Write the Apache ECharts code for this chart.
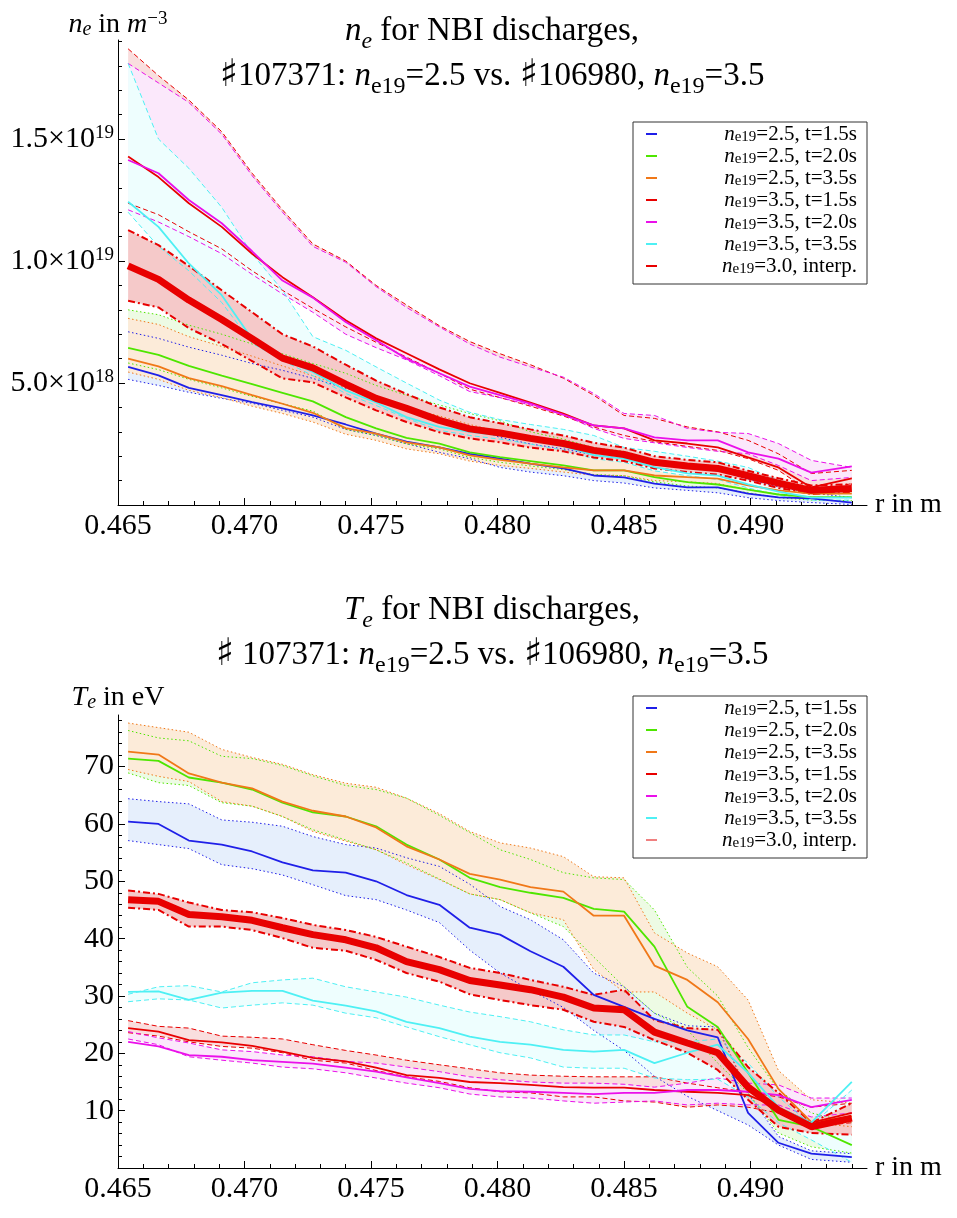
<!DOCTYPE html>
<html><head><meta charset="utf-8">
<script src="https://cdn.jsdelivr.net/npm/echarts@6/dist/echarts.min.js"></script>
<style>html,body{margin:0;padding:0;background:#fff}#c{width:957px;height:1218px}</style>
</head><body><div id="c"></div>
<script>
// radial positions r (m)
const R = [0.4654, 0.4666, 0.4678, 0.4691, 0.4703, 0.4715, 0.4727, 0.4740, 0.4752, 0.4764, 0.4777, 0.4789,
           0.4801, 0.4813, 0.4826, 0.4838, 0.4850, 0.4862, 0.4875, 0.4887, 0.4899, 0.4911, 0.4924, 0.4940];

// ---- n_e (units of 1e18 m^-3) ----
const NE_B    = [5.66, 5.31, 4.8, 4.5, 4.22, 3.96, 3.67, 3.3, 2.93, 2.6, 2.36, 2.1, 1.9, 1.7, 1.5, 1.21, 1.13, 0.88, 0.72, 0.72, 0.47, 0.31, 0.27, 0.1];
const NE_B_HI = [7.1, 6.83, 6.47, 6.14, 5.8, 5.52, 5.19, 4.78, 4.41, 3.88, 3.47, 3.18, 2.77, 2.5, 2.3, 2.05, 1.9, 1.65, 1.5, 1.45, 1.05, 0.75, 0.5, 0.3];
const NE_B_LO = [5.15, 4.9, 4.62, 4.37, 4.17, 3.88, 3.6, 3.1, 2.85, 2.52, 2.16, 1.9, 1.54, 1.35, 1.2, 1.0, 0.9, 0.7, 0.6, 0.5, 0.3, 0.18, 0.1, 0.02];
const NE_G    = [6.44, 6.15, 5.7, 5.3, 4.95, 4.6, 4.25, 3.6, 3.14, 2.75, 2.52, 2.16, 1.96, 1.8, 1.62, 1.42, 1.42, 1.14, 0.94, 0.84, 0.63, 0.43, 0.32, 0.32];
const NE_G_HI = [8.0, 7.8, 7.37, 7.0, 6.6, 6.2, 5.8, 5.4, 4.9, 4.5, 4.1, 3.75, 3.45, 3.0, 2.7, 2.35, 2.2, 1.85, 1.6, 1.5, 1.15, 0.85, 0.6, 0.55];
const NE_G_LO = [5.82, 5.55, 5.15, 4.8, 4.45, 4.15, 3.85, 3.1, 2.85, 2.5, 2.3, 1.95, 1.75, 1.6, 1.45, 1.25, 1.2, 0.95, 0.78, 0.7, 0.5, 0.3, 0.2, 0.18];
const NE_O    = [6.0, 5.68, 5.2, 4.87, 4.5, 4.15, 3.78, 3.15, 2.93, 2.57, 2.36, 2.03, 1.85, 1.7, 1.54, 1.42, 1.42, 1.21, 1.14, 1.08, 0.8, 0.6, 0.47, 0.47];
const NE_O_HI = [7.65, 7.4, 6.9, 6.5, 6.1, 5.7, 5.3, 4.8, 4.4, 4.0, 3.65, 3.3, 3.0, 2.75, 2.5, 2.25, 2.15, 1.85, 1.7, 1.6, 1.25, 0.95, 0.75, 0.7];
const NE_O_LO = [5.45, 5.15, 4.7, 4.4, 4.05, 3.75, 3.4, 2.9, 2.65, 2.3, 2.1, 1.8, 1.62, 1.5, 1.35, 1.22, 1.2, 1.0, 0.95, 0.88, 0.62, 0.45, 0.32, 0.3];
const NE_R    = [14.28, 13.44, 12.37, 11.4, 10.3, 9.34, 8.52, 7.57, 6.83, 6.22, 5.56, 4.99, 4.6, 4.2, 3.75, 3.26, 3.14, 2.65, 2.52, 2.36, 1.95, 1.54, 0.72, 1.09];
const NE_R_HI = [18.7, 17.6, 16.6, 15.3, 13.6, 12.1, 10.7, 10.0, 9.0, 8.2, 7.35, 6.7, 6.2, 5.75, 5.2, 4.5, 3.67, 3.55, 3.2, 3.0, 2.65, 2.1, 1.29, 1.42];
const NE_R_LO = [12.37, 11.9, 11.2, 10.5, 9.6, 8.8, 8.06, 7.3, 6.67, 6.06, 5.4, 4.75, 4.4, 4.05, 3.65, 3.2, 2.85, 2.6, 2.4, 2.24, 1.9, 1.42, 0.52, 0.88];
const NE_M    = [14.14, 13.6, 12.5, 11.55, 10.4, 9.2, 8.5, 7.5, 6.75, 6.0, 5.4, 4.85, 4.5, 4.16, 3.7, 3.26, 3.14, 2.77, 2.65, 2.65, 2.16, 1.9, 1.33, 1.58];
const NE_M_HI = [18.1, 17.3, 16.5, 15.2, 13.5, 12.0, 10.6, 9.95, 8.95, 8.1, 7.3, 6.6, 6.06, 5.66, 5.24, 4.57, 3.75, 3.67, 3.14, 2.98, 2.93, 2.52, 1.83, 1.54];
const NE_M_LO = [12.1, 11.6, 11.0, 10.3, 9.45, 8.65, 7.9, 7.0, 6.45, 5.95, 5.3, 4.65, 4.4, 4.1, 3.7, 3.14, 2.73, 2.55, 2.36, 2.2, 2.1, 1.62, 1.0, 1.13];
const NE_C    = [12.43, 11.4, 9.9, 8.6, 6.8, 6.0, 5.45, 4.7, 4.2, 3.6, 3.2, 3.0, 2.85, 2.65, 2.4, 2.05, 1.9, 1.55, 1.3, 1.2, 0.85, 0.55, 0.3, 0.3];
const NE_C_HI = [18.1, 15.0, 13.8, 12.2, 10.3, 8.8, 6.9, 6.34, 5.66, 5.0, 4.3, 3.8, 3.5, 3.3, 3.1, 2.85, 2.36, 2.2, 2.0, 1.8, 1.54, 1.0, 0.47, 0.6];
const NE_C_LO = [12.0, 10.6, 9.6, 8.3, 6.63, 5.93, 5.3, 4.57, 4.08, 3.55, 3.06, 2.85, 2.7, 2.5, 2.25, 1.9, 1.75, 1.4, 1.2, 1.05, 0.7, 0.4, 0.2, 0.2];
const NE_I    = [9.8, 9.25, 8.4, 7.6, 6.82, 6.02, 5.62, 4.95, 4.37, 3.96, 3.47, 3.12, 2.95, 2.73, 2.52, 2.24, 2.07, 1.75, 1.6, 1.5, 1.2, 0.9, 0.6, 0.68];
const NE_I_HI = [11.27, 10.65, 9.8, 8.8, 7.9, 7.0, 6.5, 5.75, 5.1, 4.55, 4.0, 3.6, 3.35, 3.1, 2.85, 2.55, 2.35, 2.0, 1.85, 1.75, 1.4, 1.1, 0.8, 0.85];
const NE_I_LO = [8.37, 8.1, 7.25, 6.6, 5.9, 5.19, 5.03, 4.41, 3.88, 3.4, 2.98, 2.73, 2.57, 2.35, 2.2, 1.95, 1.8, 1.5, 1.35, 1.25, 1.0, 0.7, 0.45, 0.5];

// ---- T_e (eV) ----
const TE_B    = [60.4, 60.0, 57.1, 56.4, 55.2, 53.3, 51.9, 51.5, 50.0, 47.6, 45.9, 41.9, 40.7, 37.8, 35.1, 30.2, 28.1, 26.0, 24.0, 22.8, 9.6, 4.4, 2.5, 1.9];
const TE_B_HI = [64.4, 63.9, 63.5, 60.7, 60.3, 59.6, 57.8, 56.4, 55.8, 54.1, 52.6, 49.5, 45.6, 43.3, 39.8, 34.0, 31.6, 27.0, 24.8, 24.6, 13.0, 5.5, 3.0, 2.5];
const TE_B_LO = [57.1, 56.4, 55.7, 52.9, 52.2, 51.1, 49.4, 47.5, 46.8, 45.0, 42.8, 38.0, 34.0, 31.0, 28.0, 24.0, 20.5, 16.0, 12.5, 10.0, 7.5, 4.0, 1.5, 1.0];
const TE_G    = [71.4, 71.0, 68.1, 67.2, 66.0, 63.7, 62.0, 61.3, 59.6, 56.4, 53.8, 50.6, 49.0, 48.0, 47.1, 45.2, 44.7, 38.6, 28.1, 24.6, 16.6, 8.4, 7.2, 4.0];
const TE_G_HI = [76.3, 75.0, 74.5, 71.8, 71.4, 70.2, 68.4, 66.7, 66.0, 64.5, 61.5, 58.5, 55.5, 53.8, 51.5, 50.6, 50.3, 45.0, 35.0, 30.0, 21.0, 13.6, 9.6, 7.9];
const TE_G_LO = [68.9, 67.2, 66.7, 63.7, 63.1, 61.3, 59.0, 57.2, 55.5, 53.2, 50.4, 47.8, 46.8, 44.5, 42.1, 36.8, 31.6, 27.0, 24.1, 18.3, 13.1, 6.1, 3.7, 2.6];
const TE_O    = [72.6, 72.1, 68.8, 67.2, 66.2, 63.9, 62.3, 61.3, 59.4, 56.1, 53.8, 51.3, 50.3, 49.0, 48.2, 44.0, 44.0, 35.3, 32.8, 28.9, 22.5, 13.8, 8.0, 9.0];
const TE_O_HI = [77.6, 76.8, 76.0, 73.0, 71.6, 70.4, 68.6, 67.1, 66.4, 64.5, 61.8, 58.7, 56.7, 55.8, 54.3, 50.8, 50.6, 41.0, 37.5, 35.1, 29.3, 17.0, 11.9, 11.3];
const TE_O_LO = [69.5, 68.3, 67.4, 63.9, 63.1, 61.3, 58.7, 57.0, 55.5, 52.9, 50.3, 47.8, 46.8, 44.5, 43.3, 34.6, 30.7, 30.7, 27.0, 24.1, 13.6, 9.6, 7.9, 7.2];
const TE_R    = [24.4, 23.8, 22.3, 21.9, 21.3, 20.3, 19.2, 18.6, 17.5, 16.2, 15.7, 15.0, 14.8, 14.5, 14.1, 14.0, 14.0, 13.6, 13.3, 13.1, 12.7, 10.5, 7.9, 9.6];
const TE_R_HI = [25.7, 24.7, 24.4, 23.0, 22.8, 22.5, 21.5, 20.5, 19.7, 18.8, 18.0, 17.3, 16.6, 16.2, 16.0, 15.9, 15.9, 15.9, 14.8, 14.0, 13.2, 12.4, 10.6, 11.3];
const TE_R_LO = [23.6, 23.0, 22.0, 21.2, 20.9, 20.1, 18.8, 18.3, 17.0, 15.9, 15.1, 14.0, 13.3, 13.1, 12.4, 12.4, 11.7, 11.5, 10.6, 11.0, 10.6, 9.6, 7.2, 7.9];
const TE_M    = [22.0, 21.2, 19.7, 19.4, 18.8, 18.5, 18.2, 17.5, 16.8, 15.8, 14.8, 13.8, 13.4, 13.3, 13.1, 12.9, 13.1, 13.1, 13.6, 13.6, 13.3, 12.7, 10.6, 11.9];
const TE_M_HI = [23.8, 22.7, 21.8, 20.6, 20.3, 19.7, 19.4, 18.6, 18.3, 17.6, 16.8, 15.9, 15.4, 15.0, 14.8, 14.8, 14.6, 14.1, 14.8, 15.7, 14.8, 14.5, 12.2, 12.2];
const TE_M_LO = [22.5, 21.5, 19.4, 18.8, 18.3, 17.6, 17.3, 16.6, 15.7, 14.8, 14.0, 12.9, 12.4, 12.2, 11.7, 11.3, 11.5, 11.7, 11.0, 11.3, 11.0, 11.0, 8.9, 9.6];
const TE_C    = [30.7, 30.8, 29.3, 30.6, 30.9, 30.9, 29.2, 28.3, 27.3, 25.5, 24.4, 22.9, 22.0, 21.5, 20.6, 20.3, 20.6, 18.3, 20.1, 21.5, 16.6, 10.6, 7.9, 15.0];
const TE_C_HI = [30.3, 31.6, 31.8, 30.7, 32.3, 32.8, 33.1, 31.6, 30.7, 29.8, 28.4, 27.2, 26.4, 25.5, 24.1, 23.2, 23.2, 22.0, 22.0, 22.5, 18.3, 12.4, 7.5, 13.6];
const TE_C_LO = [29.0, 29.5, 29.3, 27.9, 28.4, 28.8, 28.4, 27.0, 26.2, 24.6, 22.9, 21.5, 20.1, 19.2, 17.6, 17.4, 17.4, 15.7, 15.4, 15.5, 12.4, 7.9, 4.9, 1.0];
const TE_I    = [46.8, 46.5, 44.2, 43.8, 43.2, 41.9, 40.7, 39.8, 38.4, 36.0, 34.6, 32.7, 31.9, 31.1, 29.8, 27.9, 27.6, 23.7, 21.8, 20.1, 14.1, 10.1, 7.2, 8.7];
const TE_I_HI = [48.4, 47.8, 46.3, 45.0, 44.6, 43.6, 42.4, 41.5, 40.3, 38.6, 36.8, 34.9, 34.0, 32.8, 31.6, 30.2, 31.1, 25.8, 24.4, 24.1, 17.6, 13.1, 7.9, 11.3];
const TE_I_LO = [45.4, 45.0, 42.1, 42.1, 41.5, 40.1, 38.4, 37.9, 36.3, 34.0, 32.5, 30.3, 29.3, 28.4, 27.6, 25.5, 24.6, 22.3, 20.1, 17.1, 11.9, 7.2, 6.1, 5.8];

// ---- ticks ----
const X_MAJOR = [0.465, 0.470, 0.475, 0.480, 0.485, 0.490];
const X_MINOR = [0.466, 0.467, 0.468, 0.469, 0.471, 0.472, 0.473, 0.474, 0.476, 0.477, 0.478, 0.479,
                 0.481, 0.482, 0.483, 0.484, 0.486, 0.487, 0.488, 0.489, 0.491, 0.492, 0.493, 0.494];
const NE_MAJOR = [5, 10, 15];
const NE_MINOR = [1, 2, 3, 4, 6, 7, 8, 9, 11, 12, 13, 14, 16, 17, 18, 19];
const TE_MAJOR = [10, 20, 30, 40, 50, 60, 70];
const TE_MINOR = [2, 4, 6, 8, 12, 14, 16, 18, 22, 24, 26, 28, 32, 34, 36, 38, 42, 44, 46, 48, 52, 54, 56, 58, 62, 64, 66, 68, 72, 74, 76, 78];

// ---- legend ----
const LEG_N = ['2.5', '2.5', '2.5', '3.5', '3.5', '3.5', '3.0'];
const LEG_T = ['t=1.5s', 't=2.0s', 't=3.5s', 't=1.5s', 't=2.0s', 't=3.5s', 'interp.'];

const FONT = '"Liberation Serif", "Times New Roman", serif';
const COL  = ['#1f1fe8', '#4ee600', '#f07818', '#e80000', '#ea10ea', '#4ef0f4', '#e80000'];
const FILL = ['#e6effc', '#edfbe4', '#fcebd9', '#f9dede', '#fbe8fb', '#eefefe', '#f5c9c9'];
const LEG_COL_BOTTOM_INTERP = '#f08080';
const BOUND = ['dot', 'dot', 'dot', 'dash', 'dash', 'dash', 'dashdot'];

const NAMES = LEG_N.map((n, i) => 'ne19=' + n + ', ' + LEG_T[i]);

const TOP = [[NE_B, NE_B_HI, NE_B_LO], [NE_G, NE_G_HI, NE_G_LO], [NE_O, NE_O_HI, NE_O_LO],
             [NE_R, NE_R_HI, NE_R_LO], [NE_M, NE_M_HI, NE_M_LO], [NE_C, NE_C_HI, NE_C_LO], [NE_I, NE_I_HI, NE_I_LO]];
const BOT = [[TE_B, TE_B_HI, TE_B_LO], [TE_G, TE_G_HI, TE_G_LO], [TE_O, TE_O_HI, TE_O_LO],
             [TE_R, TE_R_HI, TE_R_LO], [TE_M, TE_M_HI, TE_M_LO], [TE_C, TE_C_HI, TE_C_LO], [TE_I, TE_I_HI, TE_I_LO]];

function pts(vals) { return R.map((x, i) => [x, vals[i]]); }

function band(ax, hi, lo, fill, z) {
  return {
    type: 'custom', xAxisIndex: ax, yAxisIndex: ax, clip: true, silent: true, z: z,
    data: [[R[0], lo[0]]],
    renderItem: function (params, api) {
      const p = [];
      for (let i = 0; i < R.length; i++) p.push(api.coord([R[i], hi[i]]));
      for (let i = R.length - 1; i >= 0; i--) p.push(api.coord([R[i], lo[i]]));
      return { type: 'polygon', shape: { points: p }, style: { fill: fill, stroke: null } };
    }
  };
}
function line(ax, name, vals, color, width, type, z) {
  return {
    type: 'line', name: name, xAxisIndex: ax, yAxisIndex: ax, data: pts(vals),
    symbol: 'none', showSymbol: false, silent: true, z: z,
    lineStyle: { color: color, width: width, type: type },
    itemStyle: { color: color }
  };
}
const DASH = { dot: [1.5, 2.5], dash: [5, 3], dashdot: [7, 3, 2, 3] };

function buildSeries(groups, ax) {
  const s = [];
  groups.forEach((g, i) => s.push(band(ax, g[1], g[2], FILL[i], 1)));
  groups.forEach((g, i) => {
    const w = BOUND[i] === 'dashdot' ? 2 : 1;
    s.push(line(ax, '_b' + ax + i + 'h', g[1], COL[i], w, DASH[BOUND[i]], 2));
    s.push(line(ax, '_b' + ax + i + 'l', g[2], COL[i], w, DASH[BOUND[i]], 2));
  });
  groups.forEach((g, i) => {
    const interp = i === 6;
    s.push(line(ax, NAMES[i], g[0], COL[i], interp ? 7 : 1.8, 'solid', interp ? 4 : 3));
  });
  return s;
}

const XMIN = 0.465, XMAX = 0.4946;
const txt = { fontFamily: FONT, color: '#000' };

function xAxes(grid) {
  return [{
    type: 'value', gridIndex: grid, position: 'bottom', min: XMIN, max: XMAX, interval: 0.005,
    axisLine: { show: true, onZero: false, lineStyle: { color: '#000', width: 1 } },
    axisTick: { show: true, inside: true, length: 7, customValues: X_MAJOR, lineStyle: { color: '#000' } },
    axisLabel: { show: true, customValues: X_MAJOR, margin: 6, fontSize: 30, ...txt, formatter: v => v.toFixed(3) },
    splitLine: { show: false },
    name: 'r in m', nameLocation: 'end', nameGap: 8,
    nameTextStyle: { fontSize: 28, ...txt, verticalAlign: 'middle', padding: [8, 0, 0, 0] }
  }, {
    type: 'value', gridIndex: grid, position: 'bottom', min: XMIN, max: XMAX, interval: 0.001,
    axisLine: { show: false, onZero: false },
    axisTick: { show: true, inside: true, length: 4, customValues: X_MINOR, lineStyle: { color: '#000' } },
    axisLabel: { show: false }, splitLine: { show: false }
  }];
}

const SUP = { fontSize: 19, fontFamily: FONT, color: '#000', verticalAlign: 'top', lineHeight: 14 };
const yTop = [{
  type: 'value', gridIndex: 0, position: 'left', min: 0, max: 19.06, interval: 5,
  axisLine: { show: true, onZero: false, lineStyle: { color: '#000', width: 1 } },
  axisTick: { show: true, inside: true, length: 7, customValues: NE_MAJOR, lineStyle: { color: '#000' } },
  axisLabel: {
    show: true, customValues: NE_MAJOR, margin: 4, fontSize: 30, ...txt,
    formatter: v => {
      const e = v >= 10 ? 19 : 18;
      const m = v >= 10 ? v / 10 : v;
      return '{m|' + m.toFixed(1) + '×10}{p|' + e + '}';
    },
    rich: { m: { fontSize: 30, fontFamily: FONT, color: '#000', lineHeight: 32 }, p: SUP }
  },
  splitLine: { show: false },
  name: '{i|n}{s|e} in {i|m}{p|−3}', nameLocation: 'end', nameGap: 0,
  nameTextStyle: {
    fontSize: 28, ...txt, align: 'center', verticalAlign: 'bottom', lineHeight: 30,
    rich: {
      i: { fontSize: 28, fontFamily: FONT, fontStyle: 'italic', color: '#000', lineHeight: 30 },
      s: { fontSize: 20, fontFamily: FONT, fontStyle: 'italic', color: '#000', lineHeight: 12, verticalAlign: 'bottom' },
      p: { fontSize: 19, fontFamily: FONT, color: '#000', lineHeight: 14, verticalAlign: 'top' }
    }
  }
}, {
  type: 'value', gridIndex: 0, position: 'left', min: 0, max: 19.06, interval: 1,
  axisLine: { show: false, onZero: false },
  axisTick: { show: true, inside: true, length: 4, customValues: NE_MINOR, lineStyle: { color: '#000' } },
  axisLabel: { show: false }, splitLine: { show: false }
}];

const yBot = [{
  type: 'value', gridIndex: 1, position: 'left', min: 0, max: 79, interval: 10,
  axisLine: { show: true, onZero: false, lineStyle: { color: '#000', width: 1 } },
  axisTick: { show: true, inside: true, length: 7, customValues: TE_MAJOR, lineStyle: { color: '#000' } },
  axisLabel: { show: true, customValues: TE_MAJOR, margin: 4, fontSize: 30, ...txt },
  splitLine: { show: false },
  name: '{i|T}{s|e} in eV', nameLocation: 'end', nameGap: 2,
  nameTextStyle: {
    fontSize: 28, ...txt, align: 'center', verticalAlign: 'bottom', lineHeight: 30,
    rich: {
      i: { fontSize: 28, fontFamily: FONT, fontStyle: 'italic', color: '#000', lineHeight: 30 },
      s: { fontSize: 20, fontFamily: FONT, fontStyle: 'italic', color: '#000', lineHeight: 12, verticalAlign: 'bottom' }
    }
  }
}, {
  type: 'value', gridIndex: 1, position: 'left', min: 0, max: 79, interval: 2,
  axisLine: { show: false, onZero: false },
  axisTick: { show: true, inside: true, length: 4, customValues: TE_MINOR, lineStyle: { color: '#000' } },
  axisLabel: { show: false }, splitLine: { show: false }
}];

const LEG_RICH = {
  n: { fontSize: 21, fontFamily: FONT, fontStyle: 'italic', color: '#000', align: 'right', lineHeight: 22 },
  s: { fontSize: 15, fontFamily: FONT, color: '#000', align: 'right', lineHeight: 10, verticalAlign: 'bottom' },
  t: { fontSize: 21, fontFamily: FONT, color: '#000', align: 'right', lineHeight: 22 }
};
function legend(top, interpColor) {
  return {
    left: 633, top: top, orient: 'vertical', selectedMode: false,
    padding: [1, 10, 7, 13], itemWidth: 11, itemHeight: 2, itemGap: 0, itemTextGap: 5,
    borderColor: '#333', borderWidth: 1, backgroundColor: '#fff',
    data: NAMES.map((nm, i) => ({ name: nm, icon: 'rect', itemStyle: { color: i === 6 ? interpColor : COL[i] } })),
    formatter: nm => {
      const i = NAMES.indexOf(nm);
      return '{n|n}{s|e19}{t|=' + LEG_N[i] + ', ' + LEG_T[i] + '}';
    },
    textStyle: { fontSize: 21, fontFamily: FONT, color: '#000', width: 195, lineHeight: 22, rich: LEG_RICH }
  };
}

const TITLE_RICH = {
  i: { fontSize: 33, fontFamily: FONT, fontStyle: 'italic', color: '#000', lineHeight: 45 },
  s: { fontSize: 24, fontFamily: FONT, fontStyle: 'italic', color: '#000', lineHeight: 28, verticalAlign: 'bottom' },
  r: { fontSize: 24, fontFamily: FONT, color: '#000', lineHeight: 28, verticalAlign: 'bottom' },
  h: { fontSize: 38, fontFamily: '"DejaVu Serif", "DejaVu Sans", serif', color: '#000', lineHeight: 45 }
};
function title(text, top) {
  return {
    text: text, left: 492, top: top, textAlign: 'center', padding: 0,
    textStyle: { fontSize: 33, fontFamily: FONT, fontWeight: 'normal', color: '#000', lineHeight: 45, rich: TITLE_RICH }
  };
}

const chart = echarts.init(document.getElementById('c'), null, { renderer: 'canvas' });
chart.setOption({
  animation: false,
  backgroundColor: '#fff',
  title: [
    title('{i|n}{s|e} for NBI discharges,\n{h|♯}107371: {i|n}{r|e19}=2.5 vs. {h|♯}106980, {i|n}{r|e19}=3.5', 9),
    title('{i|T}{s|e} for NBI discharges,\n{h|♯} 107371: {i|n}{r|e19}=2.5 vs. {h|♯}106980, {i|n}{r|e19}=3.5', 588)
  ],
  legend: [legend(122, COL[6]), legend(696, LEG_COL_BOTTOM_INTERP)],
  grid: [
    { left: 118, top: 40, width: 749, height: 465, containLabel: false },
    { left: 118, top: 715, width: 749, height: 453, containLabel: false }
  ],
  xAxis: [...xAxes(0), ...xAxes(1)],
  yAxis: [...yTop, ...yBot],
  series: [...buildSeries(TOP, 0), ...buildSeries(BOT, 2)]
});
</script>
</body></html>
